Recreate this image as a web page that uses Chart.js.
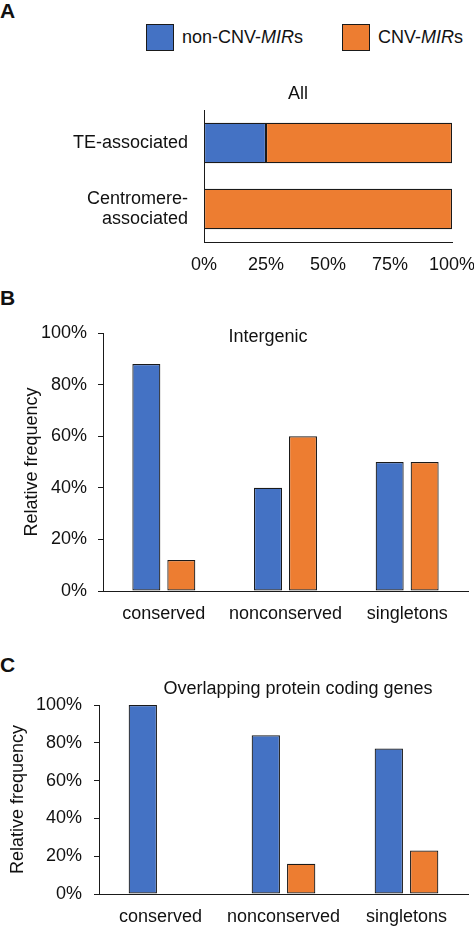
<!DOCTYPE html>
<html>
<head>
<meta charset="utf-8">
<title>CNV-MIRs</title>
<script src="https://cdn.jsdelivr.net/npm/chart.js@4"></script>
<style>
  body { margin: 0; background: #fff; font-family: "Liberation Sans", Arial, sans-serif; color: #111; }
  #page { position: relative; width: 474px; height: 926px; overflow: hidden; }
  .letter { position: absolute; left: 0; font-weight: bold; font-size: 21px; line-height: 21px; }
  .legend-item { position: absolute; top: 24px; display: flex; align-items: center; font-size: 18px; line-height: 27px; }
  .swatch { box-sizing: border-box; width: 28px; height: 27px; border: 1.5px solid #1a1a1a; margin-right: 8px; }
  canvas { position: absolute; left: 0; }
</style>
</head>
<body>
<div id="page">
  <div class="letter" style="top:0px">A</div>
  <div class="letter" style="top:287px">B</div>
  <div class="letter" style="top:654px">C</div>
  <div id="legend"></div>
  <canvas id="chartAll" width="474" height="215" style="top:70px"></canvas>
  <canvas id="chartInter" width="474" height="335" style="top:290px"></canvas>
  <canvas id="chartOverlap" width="474" height="286" style="top:640px"></canvas>
</div>
<script>
// series
const seriesNames = ["non-CNV-MIRs", "CNV-MIRs"];
const seriesColors = ["#4472C4", "#ED7D31"];

// A - all
const allCats = ["TE-associated", ["Centromere-", "associated"]];
const allNonCnv = [25, 0];
const allCnv = [75, 100];
const allTicks = [0, 25, 50, 75, 100];

// B + C
const groupCats = ["conserved", "nonconserved", "singletons"];
const interNonCnv = [88, 40, 50];
const interCnv = [12, 60, 50];
const overlapNonCnv = [100, 84, 77];
const overlapCnv = [0, 16, 23];
const freqTicks = [0, 20, 40, 60, 80, 100];

const FONT = '"Liberation Sans", Arial, sans-serif';
const INK = "#111";
const EDGE = "#1a1a1a";

Chart.defaults.font.family = FONT;
Chart.defaults.font.size = 18;
Chart.defaults.color = INK;
Chart.defaults.animation = false;

// legend (html, MIR in italics)
const legend = document.getElementById("legend");
const legendLeft = [146, 342];
seriesNames.forEach((name, i) => {
  const item = document.createElement("div");
  item.className = "legend-item";
  item.style.left = legendLeft[i] + "px";
  item.innerHTML = '<span class="swatch" style="background:' + seriesColors[i] + '"></span>' +
    name.replace("MIR", "<i>MIR</i>");
  legend.appendChild(item);
});

// title drawn at a fixed spot, like the original figure
const panelTitle = {
  id: "panelTitle",
  afterDraw(chart, args, opts) {
    const ctx = chart.ctx;
    ctx.save();
    ctx.font = "18px " + FONT;
    ctx.fillStyle = INK;
    ctx.textAlign = "center";
    ctx.textBaseline = "middle";
    ctx.fillText(opts.text, opts.x, opts.y);
    ctx.restore();
  }
};

function barSet(label, data, color, extra) {
  return Object.assign({
    label: label,
    data: data,
    backgroundColor: color,
    borderColor: EDGE,
    borderWidth: 1.2,
    borderSkipped: false
  }, extra || {});
}

// A
new Chart("chartAll", {
  type: "bar",
  data: {
    labels: allCats,
    datasets: [
      barSet(seriesNames[0], allNonCnv, seriesColors[0], {categoryPercentage: 1, barPercentage: 0.615}),
      barSet(seriesNames[1], allCnv, seriesColors[1], {categoryPercentage: 1, barPercentage: 0.615})
    ]
  },
  plugins: [panelTitle],
  options: {
    indexAxis: "y",
    responsive: false,
    layout: {padding: {top: 40, right: 0, left: 0, bottom: 0}},
    plugins: {
      legend: {display: false},
      tooltip: {enabled: false},
      panelTitle: {text: "All", x: 298, y: 24}
    },
    scales: {
      x: {
        stacked: true,
        min: 0,
        max: 100,
        afterBuildTicks: s => { s.ticks = allTicks.map(v => ({value: v})); },
        // the 100% label may run to the page edge
        afterFit: s => { s.height = 43; s.paddingLeft = 0; s.paddingRight = 22; },
        grid: {display: false, drawTicks: false},
        border: {display: true, color: EDGE, width: 1},
        ticks: {padding: 12, callback: v => v + "%"}
      },
      y: {
        stacked: true,
        afterFit: s => { s.width = 204; },
        grid: {display: false, drawTicks: false},
        border: {display: true, color: EDGE, width: 1},
        ticks: {padding: 16, font: {size: 18, lineHeight: 1.1}}
      }
    }
  }
});

// B and C share one layout
function groupChart(id, nonCnv, cnv, lay) {
  new Chart(id, {
    type: "bar",
    data: {
      labels: groupCats,
      datasets: [
        barSet(seriesNames[0], nonCnv, seriesColors[0], {categoryPercentage: 0.575, barPercentage: 0.8}),
        barSet(seriesNames[1], cnv, seriesColors[1], {categoryPercentage: 0.575, barPercentage: 0.8})
      ]
    },
    plugins: [panelTitle],
    options: {
      responsive: false,
      layout: {padding: {top: lay.top, right: 6, left: 0, bottom: 0}},
      plugins: {
        legend: {display: false},
        tooltip: {enabled: false},
        panelTitle: {text: lay.title, x: lay.titleX, y: lay.titleY}
      },
      scales: {
        x: {
          afterFit: s => { s.height = lay.xHeight; },
          grid: {display: false, drawTicks: false},
          border: {display: true, color: EDGE, width: 1},
          ticks: {padding: 12}
        },
        y: {
          min: 0,
          max: 100,
          afterBuildTicks: s => { s.ticks = freqTicks.map(v => ({value: v})); },
          afterFit: s => { s.width = lay.yWidth; },
          grid: {display: true, drawOnChartArea: false, drawTicks: true, tickLength: 5, color: EDGE},
          border: {display: true, color: EDGE, width: 1},
          ticks: {padding: lay.tickPad, callback: v => v + "%"},
          title: {display: true, text: "Relative frequency", padding: {top: lay.titlePad, bottom: 0}}
        }
      }
    }
  });
}

groupChart("chartInter", interNonCnv, interCnv,
  {top: 43, xHeight: 34, yWidth: 103, tickPad: 11, titlePad: 21, title: "Intergenic", titleX: 268, titleY: 47});
groupChart("chartOverlap", overlapNonCnv, overlapCnv,
  {top: 65, xHeight: 32, yWidth: 99, tickPad: 12, titlePad: 7, title: "Overlapping protein coding genes", titleX: 298, titleY: 49});
</script>
</body>
</html>
